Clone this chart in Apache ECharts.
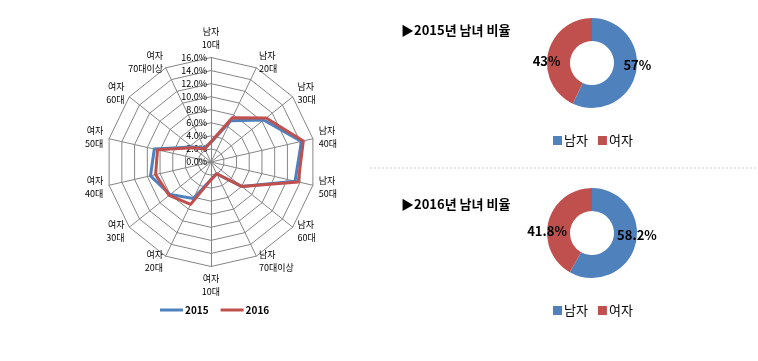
<!DOCTYPE html>
<html><head><meta charset="utf-8">
<script src="https://cdn.jsdelivr.net/npm/echarts@6/dist/echarts.min.js"></script>
<style>html,body{margin:0;padding:0;background:#fff}#c{width:758px;height:361px}</style>
</head><body><div id="c"></div>
<script>
// ---- data ----
const categories = ['남자\n10대','남자\n20대','남자\n30대','남자\n40대','남자\n50대','남자\n60대','남자\n70대이상',
                    '여자\n10대','여자\n20대','여자\n30대','여자\n40대','여자\n50대','여자\n60대','여자\n70대이상'];
const values2015 = [3.0, 7.0, 10.3, 14.2, 13.2, 6.0, 2.0, 2.7, 6.2, 8.0, 9.5, 8.9, 3.7, 2.4];
const values2016 = [3.1, 7.5, 10.8, 14.5, 13.7, 6.0, 2.0, 2.7, 7.2, 8.2, 8.7, 8.4, 3.5, 2.2];
const radarMax = 16;
const seriesNames = ['2015', '2016'];
const genderNames = ['남자', '여자'];
const pie2015 = [57, 43];
const pie2016 = [58.2, 41.8];
const pieTitles = ['▶2015년 남녀 비율', '▶2016년 남녀 비율'];

// ---- build ----
const FONT = '"Noto Sans CJK KR", "Noto Sans", sans-serif';
const BLUE = '#4F81BD', RED = '#C0504D';
// ECharts radar runs counter-clockwise; reference runs clockwise
const order = [0]; for (let i = categories.length - 1; i >= 1; i--) order.push(i);
const indicators = order.map((i, k) => {
  const o = { name: categories[i], max: radarMax, min: 0 };
  if (k === 0) o.axisLabel = { show: true };
  return o;
});
const reorder = arr => order.map(i => arr[i]);

function makeLayout(vals, cx, cy) {
  const total = vals.reduce((a, b) => a + b, 0);
  return function (p) {
    let cum = 0;
    for (let i = 0; i < p.dataIndex; i++) cum += vals[i];
    cum += vals[p.dataIndex] / 2;
    const th = cum / total * Math.PI * 2;
    return { x: cx + Math.sin(th) * 46.5, y: cy - Math.cos(th) * 8, align: 'center', verticalAlign: 'middle' };
  };
}

function pieSeries(vals, cy) {
  return {
    type: 'pie', radius: [22, 45], center: [592, cy], startAngle: 90, clockwise: true,
    silent: true,
    data: vals.map((v, i) => ({ name: genderNames[i], value: v, itemStyle: { color: i === 0 ? BLUE : RED } })),
    label: { show: true, position: 'inside', formatter: '{c}%', color: '#000', fontSize: 13,
             fontWeight: 'bold', fontFamily: FONT },
    labelLayout: makeLayout(vals, 592, cy),
    labelLine: { show: false }
  };
}

const chart = echarts.init(document.getElementById('c'));
chart.setOption({
  animation: false,
  title: [
    { text: pieTitles[0], left: 396, top: 19, textStyle: { fontSize: 13, fontWeight: 'bold', color: '#000', fontFamily: FONT } },
    { text: pieTitles[1], left: 396, top: 193, textStyle: { fontSize: 13, fontWeight: 'bold', color: '#000', fontFamily: FONT } }
  ],
  legend: [
    { data: seriesNames, left: 155, top: 300, icon: 'rect', itemWidth: 23, itemHeight: 3, itemGap: 12,
      textStyle: { fontSize: 10, fontWeight: 'bold', color: '#000', fontFamily: FONT, padding: [0, 0, 0, -3] } },
    { data: genderNames, left: 548, top: 129, icon: 'rect', itemWidth: 9, itemHeight: 9, itemGap: 10,
      textStyle: { fontSize: 13, color: '#000', fontFamily: FONT, padding: [0, 0, 0, -3] } },
    { data: genderNames, left: 548, top: 299, icon: 'rect', itemWidth: 9, itemHeight: 9, itemGap: 10,
      textStyle: { fontSize: 13, color: '#000', fontFamily: FONT, padding: [0, 0, 0, -3] } }
  ],
  radar: {
    center: [211, 162], radius: 104.5, startAngle: 90, splitNumber: 8, shape: 'polygon',
    indicator: indicators,
    axisName: { color: '#000', fontSize: 9, fontFamily: FONT, lineHeight: 13 },
    nameGap: 6,
    axisLine: { lineStyle: { color: '#858585', width: 1 } },
    splitLine: { lineStyle: { color: '#858585', width: 1 } },
    splitArea: { show: false },
    axisTick: { show: false },
    axisLabel: { show: false, color: '#000', fontSize: 9, fontFamily: FONT, margin: 4,
                 formatter: v => v.toFixed(1) + '%', showMinLabel: true, showMaxLabel: true }
  },
  graphic: [
    { type: 'line', shape: { x1: 370, y1: 168, x2: 758, y2: 168 },
      style: { stroke: '#cfcfcf', lineWidth: 1, lineDash: [2, 2] }, silent: true }
  ],
  series: [
    {
      type: 'radar', symbol: 'none', silent: true,
      data: [
        { name: seriesNames[0], value: reorder(values2015), lineStyle: { color: BLUE, width: 3 }, itemStyle: { color: BLUE } },
        { name: seriesNames[1], value: reorder(values2016), lineStyle: { color: RED, width: 3 }, itemStyle: { color: RED } }
      ]
    },
    pieSeries(pie2015, 63),
    pieSeries(pie2016, 233)
  ]
});
</script></body></html>
